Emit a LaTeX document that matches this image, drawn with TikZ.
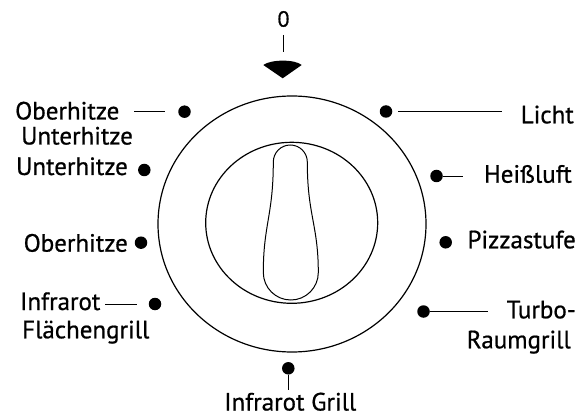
\documentclass[tikz,border=0pt]{standalone}
\usepackage{fontspec}
\setmainfont{PT Sans}
\newfontfamily\labfont{PT Sans}[FakeBold=0.7]
\begin{document}
\begin{tikzpicture}[x=1pt,y=-1pt,
  dot/.style={circle,fill=black,inner sep=0pt,minimum size=12.5pt},
  lab/.style={inner sep=0pt,font=\labfont\fontsize{25}{29}\selectfont},
  conn/.style={line width=0.8pt},
  ring/.style={line width=1.2pt},
  key/.style={line width=1pt}]
\useasboundingbox (0,0) rectangle (584,417);

% rings
\draw[ring] (292,224) ellipse [x radius=134, y radius=128];
\draw[ring] (291.7,222.8) ellipse [x radius=86, y radius=80.5];

% keyhole-shaped knob handle
\draw[key] (273.3,162) .. controls (273.3,152.6) and (280.9,145) .. (290.3,145)
  .. controls (299.7,145) and (307.3,152.6) .. (307.3,162)
  .. controls (307.3,215) and (318.3,225) .. (318.3,272.5)
  .. controls (318.3,287.7) and (306,300) .. (290.8,300)
  .. controls (275.6,300) and (263.3,287.7) .. (263.3,272.5)
  .. controls (263.3,225) and (273.3,215) .. cycle;

% zero mark and pointer
\node[inner sep=0pt,font=\labfont\fontsize{22}{26}\selectfont] (zero) at (283.5,19) {0};
\coordinate (c0) at (283.3,51.7);
\draw[conn] (283.3,35) -- (c0);
\fill (263.3,65) -- (282.7,78.3) -- (301.7,65)
  .. controls (295,59.2) and (271,59.2) .. cycle;

% dots
\node[dot] (d1) at (184.5,111.7) {};
\node[dot] (d2) at (386,111.5) {};
\node[dot] (d3) at (436.5,176) {};
\node[dot] (d4) at (445.7,242.3) {};
\node[dot] (d5) at (423.5,311.5) {};
\node[dot] (d6) at (288.3,368.3) {};
\node[dot] (d7) at (155,304) {};
\node[dot] (d8) at (141,242.7) {};
\node[dot] (d9) at (144.3,170) {};

% labels
\node[lab,anchor=base west] (ob1) at (15,119.5) {Oberhitze};
\node[lab,anchor=base west] (ob2) at (21,144.5) {Unterhitze};
\node[lab,anchor=base east] (licht) at (574,123.3) {Licht};
\node[lab,anchor=base east] (heiss) at (572,182.7) {Heißluft};
\node[lab,anchor=base east] (pizza) at (576,248.3) {Pizzastufe};
\node[lab,anchor=base east] (turbo) at (576,318.3) {Turbo-};
\node[lab,anchor=base east] (raum) at (571,348.3) {Raumgrill};
\node[lab,anchor=base] (irgrill) at (290.3,410.5) {Infrarot Grill};
\node[lab,anchor=base west] (ir1) at (20,310) {Infrarot};
\node[lab,anchor=base west] (ir2) at (22,338.3) {Flächengrill};
\node[lab,anchor=base east] (ober) at (128,251.7) {Oberhitze};
\node[lab,anchor=base east] (unter) at (128,175) {Unterhitze};

% connector lines
\coordinate (c1) at (134,111.7);
\draw[conn,shorten >=13.5pt] (c1) -- (d1);
\coordinate (c2) at (502,111.5);
\draw[conn,shorten <=6pt] (d2) -- (c2);
\coordinate (c3) at (463,176);
\draw[conn] (d3) -- (c3);
\coordinate (c5) at (488,311.5);
\draw[conn] (d5) -- (c5);
\coordinate (c6) at (288.3,390);
\draw[conn] (d6) -- (c6);
\coordinate (c7) at (105,304);
\draw[conn,shorten >=12pt] (c7) -- (d7);
\end{tikzpicture}
\end{document}
